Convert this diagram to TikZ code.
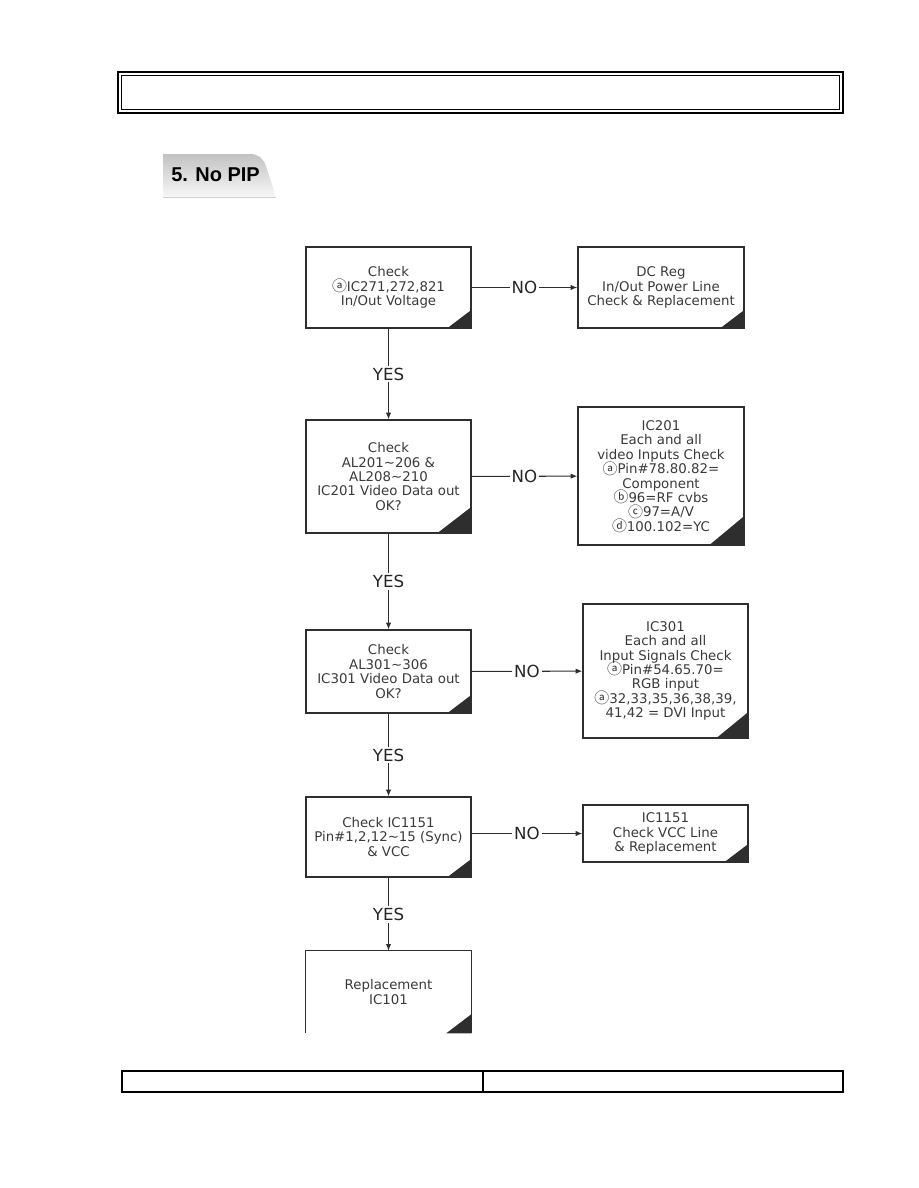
\documentclass[tikz,border=0pt]{standalone}
\usepackage{fontspec}
\usepackage{graphicx}
\setmainfont{DejaVu Sans}
\newfontfamily\tabfont{Liberation Sans}
\newfontfamily\cjk{Noto Sans CJK KR}
\newcommand\cl[1]{\smash{\raisebox{-0.3pt}{\scalebox{1.12}{\cjk #1}}}}
\usetikzlibrary{arrows.meta}
\definecolor{ink}{HTML}{2E2E2E}
\definecolor{txt}{HTML}{3A3A3A}
\newcommand\cornertri[3]{\fill[ink] (#1.south east) -- ++(-#2,0) -- ++(#2,-#3) -- cycle;}
\begin{document}
\begin{tikzpicture}[x=0.75pt,y=-0.75pt,
  box/.style={draw=ink, line width=1pt, inner sep=0pt, align=center,
    font=\fontsize{10}{10.8}\selectfont, text=txt},
  openbox/.style={inner sep=0pt, align=center,
    font=\fontsize{10}{10.8}\selectfont, text=txt},
  arr/.style={draw=ink, line width=0.8pt, -{Latex[length=5pt,width=4pt]}},
  lbl/.style={fill=white, inner sep=1.5pt, font=\fontsize{12.5}{12.5}\selectfont, text=black!85}]
\useasboundingbox (0,0) rectangle (918,1188);

% header frame
\draw[line width=1.4pt, black] (118,72) rectangle (843,113);
\draw[line width=0.7pt, black] (121.5,75.5) rectangle (839.5,109.5);

% tab
\shade[top color=black!24, bottom color=black!3]
  (163,154) -- (250,154) .. controls (258,154) and (263,158) .. (266,166)
  -- (276,197) -- (163,197) -- cycle;
\draw[black!18, line width=0.8pt] (163,197.5) -- (276,197.5);
\node[anchor=base west, inner sep=0pt, font=\tabfont\bfseries\fontsize{15}{15}\selectfont]
  (tab) at (171,181.5) {5. No PIP};

% boxes
\node[box, minimum width=123.75pt, minimum height=60.75pt] (b1) at (388.5,287.5)
  {Check\\\cl{ⓐ}IC271,272,821\\In/Out Voltage};
\node[box, minimum width=124.5pt, minimum height=60.75pt] (r1) at (661,287.5)
  {DC Reg\\In/Out Power Line\\Check \& Replacement};
\node[box, minimum width=123.75pt, minimum height=84.75pt] (b2) at (388.5,476.5)
  {Check\\AL201\textasciitilde206 \&\\AL208\textasciitilde210\\IC201 Video Data out\\OK?};
\node[box, minimum width=124.5pt, minimum height=103.5pt] (r2) at (661,476)
  {IC201\\Each and all\\video Inputs Check\\\cl{ⓐ}Pin\#78.80.82=\\Component\\\cl{ⓑ}96=RF cvbs\\\cl{ⓒ}97=A/V\\\cl{ⓓ}100.102=YC};
\node[box, minimum width=123.75pt, minimum height=62.25pt] (b3) at (388.5,671.5)
  {Check\\AL301\textasciitilde306\\IC301 Video Data out\\OK?};
\node[box, minimum width=123.75pt, minimum height=100.5pt] (r3) at (665.5,671)
  {IC301\\Each and all\\Input Signals Check\\\cl{ⓐ}Pin\#54.65.70=\\RGB input\\\cl{ⓐ}32,33,35,36,38,39,\\41,42 = DVI Input};
\node[box, minimum width=123.75pt, minimum height=60pt] (b4) at (388.5,837)
  {Check IC1151\\Pin\#1,2,12\textasciitilde15 (Sync)\\\& VCC};
\node[box, minimum width=123.75pt, minimum height=42.75pt] (r4) at (665.5,833.5)
  {IC1151\\Check VCC Line\\\& Replacement};
\node[openbox, minimum width=123.75pt, minimum height=61.5pt] (b5) at (388.5,992)
  {Replacement\\IC101};
\draw[ink, line width=1pt] (b5.south west) -- (b5.north west) -- (b5.north east) -- (b5.south east);

% corner marks
\cornertri{b1}{25}{19}
\cornertri{r1}{25}{19}
\cornertri{b2}{35}{27}
\cornertri{r2}{36}{30}
\cornertri{b3}{25}{19}
\cornertri{r3}{33}{27}
\cornertri{b4}{25}{19}
\cornertri{r4}{25}{19}
\cornertri{b5}{25}{19}

% connectors
\draw[arr] (b1) -- node[lbl]{NO} (r1);
\draw[arr] (b2) -- node[lbl]{NO} (r2);
\draw[arr] (b3) -- node[lbl]{NO} (r3);
\draw[arr] (b4.east |- r4.west) -- node[lbl]{NO} (r4.west);
\draw[arr] (b1) -- node[lbl]{YES} (b2);
\draw[arr] (b2) -- node[lbl]{YES} (b3);
\draw[arr] (b3) -- node[lbl]{YES} (b4);
\draw[arr] (b4) -- node[lbl]{YES} (b5);

% footer
\draw[line width=1pt, black] (122,1071) rectangle (843,1092);
\draw[line width=1pt, black] (483,1071) -- (483,1092);
\end{tikzpicture}
\end{document}
